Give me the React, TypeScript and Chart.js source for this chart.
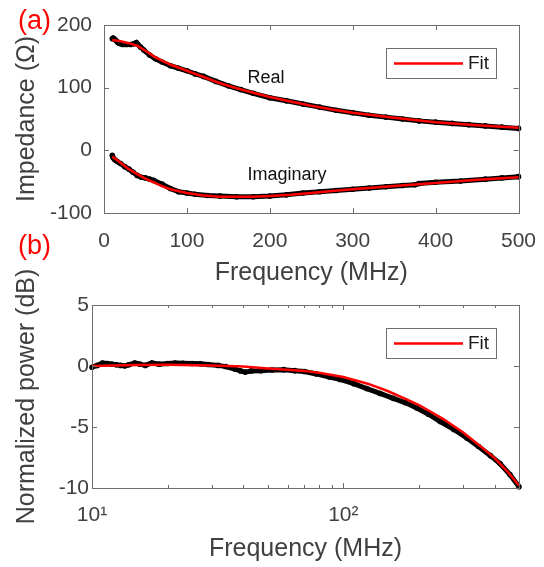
import React, { useEffect, useRef } from 'react';
import { Chart, registerables } from 'chart.js';

Chart.register(...registerables);

// ---------- Panel (a): impedance vs frequency ----------
const aRealFreq = [10, 11, 12, 14, 16, 18, 20, 23, 27, 32, 36, 39, 41, 44, 48, 55, 62, 70, 80, 90, 100, 110, 120, 135, 150, 165, 180, 200, 220, 240, 260, 280, 300, 320, 340, 360, 380, 400, 420, 440, 460, 480, 500];
const aRealOhm = [178, 179, 178, 176, 173, 171, 170, 169, 169, 169, 170, 172, 169, 165, 160, 152, 146, 141, 135, 131, 127, 122, 118, 110, 103, 97, 91, 84, 79, 74, 69, 64, 60, 56, 53, 50, 47, 45, 43, 41, 39, 37, 35];

const aImagFreq = [10, 11, 13, 16, 20, 25, 30, 35, 40, 45, 50, 55, 60, 70, 80, 90, 100, 110, 125, 140, 160, 180, 200, 220, 240, 260, 280, 300, 320, 340, 360, 375, 380, 400, 430, 460, 480, 500];
const aImagOhm = [-8, -12, -15, -18, -21, -26, -30, -35, -40, -43, -44, -46, -48, -54, -61, -66, -68, -70, -72, -73, -74, -74, -73, -71, -68, -66, -64, -62, -60, -58, -56, -55, -53, -51, -49, -46, -44, -42];

const aFitFreq = [10, 20, 30, 40, 50, 60, 70, 80, 100, 120, 140, 160, 180, 200, 225, 250, 275, 300, 350, 400, 450, 500];
const aRealFit = [176, 174, 171, 167, 159, 150, 143, 137, 127, 117, 107, 99, 92, 85, 78, 71, 65, 60, 52, 45, 40, 36];
const aImagFit = [-10, -20, -30, -38, -45, -51, -57, -62, -68, -72, -74, -74, -74, -73, -71, -68, -65, -62, -57, -52, -47, -43];

const aXTicks = [0, 100, 200, 300, 400, 500];
const aYTicks = [-100, 0, 100, 200];

// ---------- Panel (b): normalized power vs frequency (log) ----------
const bFreq = [10, 10.5, 11, 11.5, 12, 12.5, 13, 13.5, 14, 14.8, 15.5, 16.3, 17.3, 18.5, 20, 21.4, 23, 25, 27, 29, 31.8, 34, 37, 39, 40.7, 43, 47, 52, 58, 64, 70, 78, 88, 97, 110, 124, 140, 158, 176, 196, 218, 243, 275, 310, 345, 385, 420, 460, 500];
const bPower = [-0.1, 0.05, 0.25, 0.2, 0.15, 0.1, 0.05, 0.0, 0.1, 0.25, 0.15, 0.05, 0.25, 0.15, 0.2, 0.25, 0.22, 0.2, 0.18, 0.12, 0.05, -0.05, -0.25, -0.4, -0.5, -0.4, -0.38, -0.33, -0.3, -0.38, -0.45, -0.65, -0.9, -1.1, -1.45, -1.85, -2.25, -2.65, -3.0, -3.45, -3.95, -4.55, -5.2, -5.9, -6.6, -7.35, -8.0, -8.9, -9.9];

const bFitFreq = [10, 15, 20, 30, 40, 50, 60, 70, 80, 100, 125, 150, 175, 200, 250, 300, 350, 400, 450, 500];
const bFitPower = [0.0, 0.08, 0.1, 0.05, -0.05, -0.2, -0.3, -0.4, -0.55, -0.9, -1.45, -2.05, -2.65, -3.2, -4.35, -5.45, -6.55, -7.55, -8.65, -9.8];

const bXMajor = [10, 100];
const bXMinor = [20, 30, 40, 50, 60, 70, 80, 90, 200, 300, 400, 500];
const bYTicks = [-10, -5, 0, 5];

// ---------- styling ----------
const FONT = 'Arial, "Liberation Sans", Helvetica, sans-serif';
const TEXT = '#404040';
const AXIS = '#6e6e6e';
const RED = '#ff0000';

const zip = (xs: number[], ys: number[]) => xs.map((x, i) => ({ x, y: ys[i] }));

const boxTicks = {
  id: 'boxTicks',
  afterDatasetsDraw(chart: any, _a: any, opts: any) {
    const { ctx, chartArea, scales } = chart;
    const { left, right, top, bottom } = chartArea;
    const L = 5, l = 3;
    ctx.save();
    ctx.strokeStyle = AXIS;
    ctx.lineWidth = 1;
    ctx.beginPath();
    const px = (v: number) => Math.round(scales.x.getPixelForValue(v)) + 0.5;
    const py = (v: number) => Math.round(scales.y.getPixelForValue(v)) + 0.5;
    const drawX = (vals: number[], len: number) => {
      for (const v of vals) {
        const p = px(v);
        ctx.moveTo(p, bottom); ctx.lineTo(p, bottom - len);
        ctx.moveTo(p, top); ctx.lineTo(p, top + len);
      }
    };
    drawX(opts.xMajor || [], L);
    drawX(opts.xMinor || [], l);
    for (const v of opts.yMajor || []) {
      const p = py(v);
      ctx.moveTo(left, p); ctx.lineTo(left + L, p);
      ctx.moveTo(right, p); ctx.lineTo(right - L, p);
    }
    ctx.stroke();
    ctx.strokeRect(Math.round(left) + 0.5, Math.round(top) + 0.5, Math.round(right - left), Math.round(bottom - top));
    ctx.restore();
  },
};

const fitLegend = {
  id: 'fitLegend',
  afterDraw(chart: any, _a: any, opts: any) {
    const { ctx, chartArea } = chart;
    const w = 110, h = 30;
    const x0 = Math.round(chartArea.right - 23 - w);
    const y0 = Math.round(chartArea.top + 22.5);
    ctx.save();
    ctx.fillStyle = '#fff';
    ctx.fillRect(x0, y0, w, h);
    ctx.strokeStyle = AXIS;
    ctx.lineWidth = 1;
    ctx.strokeRect(x0 + 0.5, y0 + 0.5, w, h);
    ctx.strokeStyle = RED;
    ctx.lineWidth = 2.5;
    ctx.beginPath();
    ctx.moveTo(x0 + 8, y0 + h / 2 + 0.5);
    ctx.lineTo(x0 + 77, y0 + h / 2 + 0.5);
    ctx.stroke();
    ctx.fillStyle = '#1a1a1a';
    ctx.font = `19px ${FONT}`;
    ctx.textBaseline = 'middle';
    ctx.textAlign = 'left';
    ctx.fillText(opts.text || 'Fit', x0 + 82, y0 + h / 2 + 1);
    ctx.restore();
  },
};

const notes = {
  id: 'notes',
  afterDraw(chart: any, _a: any, opts: any) {
    const { ctx, scales } = chart;
    ctx.save();
    ctx.fillStyle = '#111';
    ctx.font = `18px ${FONT}`;
    ctx.textBaseline = 'middle';
    ctx.textAlign = 'left';
    for (const n of opts.items || []) {
      ctx.fillText(n.text, scales.x.getPixelForValue(n.x), scales.y.getPixelForValue(n.y));
    }
    ctx.restore();
  },
};

const dataStyle = {
  showLine: true,
  borderColor: '#000',
  backgroundColor: '#000',
  pointBackgroundColor: '#000',
  pointBorderColor: '#000',
  borderWidth: 5,
  pointRadius: 2.8,
  pointBorderWidth: 0,
  order: 2,
  clip: false as any,
};
const fitStyle = {
  showLine: true,
  borderColor: RED,
  backgroundColor: RED,
  borderWidth: 2.5,
  pointRadius: 0,
  order: 1,
  clip: false as any,
};

const noPad = (s: any) => { s.paddingLeft = 0; s.paddingRight = 0; s.paddingTop = 0; s.paddingBottom = 0; };

function makeA(): any {
  return {
    type: 'scatter',
    data: {
      datasets: [
        { label: 'Real', data: zip(aRealFreq, aRealOhm), ...dataStyle },
        { label: 'Imaginary', data: zip(aImagFreq, aImagOhm), ...dataStyle },
        { label: 'Fit', data: zip(aFitFreq, aRealFit), ...fitStyle },
        { label: 'Fit (imag)', data: zip(aFitFreq, aImagFit), ...fitStyle },
      ],
    },
    options: {
      animation: false,
      responsive: false,
      layout: { padding: { top: 25, right: 25.5, left: 0, bottom: 0 } },
      plugins: {
        legend: { display: false },
        tooltip: { enabled: false },
        boxTicks: { xMajor: aXTicks, yMajor: aYTicks },
        fitLegend: { text: 'Fit' },
        notes: { items: [{ text: 'Real', x: 173, y: 115 }, { text: 'Imaginary', x: 173, y: -40 }] },
      },
      scales: {
        x: {
          type: 'linear', min: 0, max: 500,
          ticks: { stepSize: 100, color: TEXT, font: { size: 21, family: FONT }, padding: 16, maxRotation: 0 },
          grid: { display: false, drawTicks: false },
          border: { display: false },
          title: { display: true, text: 'Frequency (MHz)', color: TEXT, font: { size: 25, family: FONT }, padding: { top: 0, bottom: 2 } },
          afterFit: (s: any) => { s.height = 77; noPad(s); },
        },
        y: {
          type: 'linear', min: -100, max: 200,
          ticks: { stepSize: 100, color: TEXT, font: { size: 21, family: FONT }, padding: 12 },
          grid: { display: false, drawTicks: false },
          border: { display: false },
          title: { display: true, text: 'Impedance (Ω)', color: TEXT, font: { size: 25, family: FONT }, padding: { top: 12, bottom: 0 } },
          afterFit: (s: any) => { s.width = 104; noPad(s); },
        },
      },
    },
    plugins: [boxTicks, fitLegend, notes],
  };
}

function makeB(): any {
  return {
    type: 'scatter',
    data: {
      datasets: [
        { label: 'Data', data: zip(bFreq, bPower), ...dataStyle },
        { label: 'Fit', data: zip(bFitFreq, bFitPower), ...fitStyle },
      ],
    },
    options: {
      animation: false,
      responsive: false,
      layout: { padding: { top: 77, right: 25, left: 0, bottom: 0 } },
      plugins: {
        legend: { display: false },
        tooltip: { enabled: false },
        boxTicks: { xMajor: bXMajor, xMinor: bXMinor, yMajor: bYTicks },
        fitLegend: { text: 'Fit' },
      },
      scales: {
        x: {
          type: 'logarithmic', min: 10, max: 500,
          afterBuildTicks: (s: any) => { s.ticks = bXMajor.map((v) => ({ value: v })); },
          ticks: {
            color: TEXT, font: { size: 21, family: FONT }, padding: 15, maxRotation: 0, autoSkip: false,
            callback: (v: any) => (v === 10 ? '10¹' : v === 100 ? '10²' : ''),
          },
          grid: { display: false, drawTicks: false },
          border: { display: false },
          title: { display: true, text: 'Frequency (MHz)', color: TEXT, font: { size: 25, family: FONT }, padding: { top: 0, bottom: 3 } },
          afterFit: (s: any) => { s.height = 79; noPad(s); },
        },
        y: {
          type: 'linear', min: -10, max: 5,
          ticks: { stepSize: 5, color: TEXT, font: { size: 21, family: FONT }, padding: 3 },
          grid: { display: false, drawTicks: false },
          border: { display: false },
          title: { display: true, text: 'Normalized power (dB)', color: TEXT, font: { size: 25, family: FONT }, padding: { top: 12, bottom: 0 } },
          afterFit: (s: any) => { s.width = 92; noPad(s); },
        },
      },
    },
    plugins: [boxTicks, fitLegend],
  };
}

function Panel({ make, top, height }: { make: () => any; top: number; height: number }) {
  const ref = useRef<HTMLCanvasElement | null>(null);
  useEffect(() => {
    if (!ref.current) return;
    const chart = new Chart(ref.current, make());
    return () => chart.destroy();
  }, [make]);
  return (
    <canvas
      ref={ref}
      width={544}
      height={height}
      style={{ position: 'absolute', left: 0, top, width: 544, height }}
    />
  );
}

const labelStyle: React.CSSProperties = {
  position: 'absolute',
  left: 18,
  color: RED,
  fontFamily: FONT,
  fontSize: 27,
  lineHeight: '30px',
  margin: 0,
  whiteSpace: 'nowrap',
};

export default function App() {
  return (
    <div style={{ position: 'absolute', left: 0, top: 0, width: 544, height: 567, background: '#fff', overflow: 'hidden' }}>
      <Panel make={makeA} top={0} height={290} />
      <Panel make={makeB} top={228} height={339} />
      <div style={{ ...labelStyle, top: 5 }}>(a)</div>
      <div style={{ ...labelStyle, top: 230 }}>(b)</div>
    </div>
  );
}
